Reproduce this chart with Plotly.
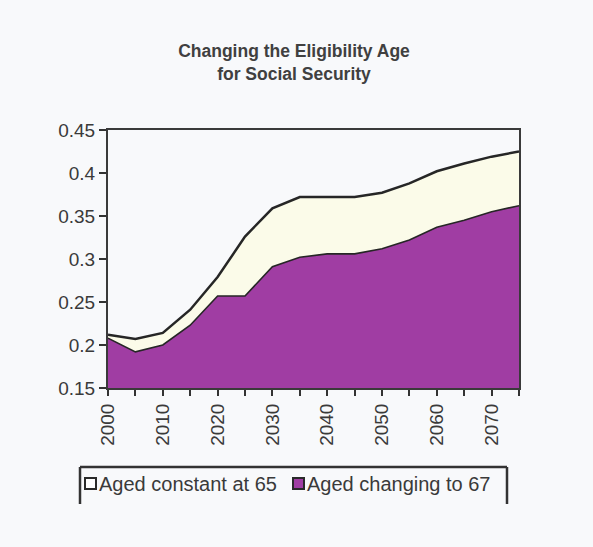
import plotly.graph_objects as go

years = [2000, 2005, 2010, 2015, 2020, 2025, 2030, 2035, 2040, 2045, 2050, 2055, 2060, 2065, 2070, 2075]
aged_constant_65 = [0.212, 0.207, 0.214, 0.241, 0.279, 0.326, 0.359, 0.372, 0.372, 0.372, 0.377, 0.388, 0.402, 0.411, 0.419, 0.425]
aged_changing_67 = [0.208, 0.192, 0.200, 0.223, 0.257, 0.257, 0.291, 0.302, 0.306, 0.306, 0.312, 0.322, 0.337, 0.345, 0.355, 0.362]
x_ticks = list(range(2000, 2080, 5))
x_labels = [str(y) if y % 10 == 0 else "" for y in x_ticks]
y_ticks = [0.15, 0.2, 0.25, 0.3, 0.35, 0.4, 0.45]
y_labels = ["0.15", "0.2", "0.25", "0.3", "0.35", "0.4", "0.45"]
series_names = ["Aged constant at 65", "Aged changing to 67"]
series_fills = ["#fbfbe9", "#a03da3"]

W, H = 593, 547
L, R, T, B = 108, 74, 130, 159
pw, ph = W - L - R, H - T - B


def px(x):
    return (x - L) / pw


def py(y):
    return (H - B - y) / ph


fig = go.Figure()
fig.add_trace(go.Scatter(
    x=years, y=aged_constant_65, name=series_names[0], showlegend=False,
    mode="lines", fill="tozeroy", fillcolor=series_fills[0],
    line=dict(color="#262626", width=2.5),
))
fig.add_trace(go.Scatter(
    x=years, y=aged_changing_67, name=series_names[1], showlegend=False,
    mode="lines", fill="tozeroy", fillcolor=series_fills[1],
    line=dict(color="#262626", width=1.6),
))

font_family = "Liberation Sans, Arial, sans-serif"

# hand-drawn legend box like the original (top, left and right edges)
box_l, box_r, box_t, box_b = 80, 507, 467, 504
legend_y = 484
shapes = [
    dict(type="line", xref="paper", yref="paper", x0=px(box_l), x1=px(box_r), y0=py(box_t), y1=py(box_t),
         line=dict(color="#333", width=2.5)),
    dict(type="line", xref="paper", yref="paper", x0=px(box_l), x1=px(box_l), y0=py(box_t), y1=py(box_b),
         line=dict(color="#333", width=2.5)),
    dict(type="line", xref="paper", yref="paper", x0=px(box_r), x1=px(box_r), y0=py(box_t), y1=py(box_b),
         line=dict(color="#333", width=2.5)),
]
annotations = []
item_x = [85, 293]
for name, fillc, x0 in zip(series_names, series_fills, item_x):
    shapes.append(dict(type="rect", xref="paper", yref="paper",
                       x0=px(x0), x1=px(x0 + 11), y0=py(legend_y - 6), y1=py(legend_y + 5),
                       fillcolor=fillc if fillc != series_fills[0] else "#ffffff",
                       line=dict(color="#2a2a2a", width=2)))
    annotations.append(dict(text=name, xref="paper", yref="paper", x=px(x0 + 12), y=py(legend_y),
                            xanchor="left", yanchor="middle", showarrow=False,
                            font=dict(size=20, color="#3a3a3a", family=font_family)))

fig.update_layout(
    width=W, height=H,
    margin=dict(l=L, r=R, t=T, b=B),
    paper_bgcolor="#f8f9fb", plot_bgcolor="#f8f9fb",
    font=dict(family=font_family, color="#333333", size=19),
    title=dict(
        text="<b>Changing the Eligibility Age<br>for Social Security</b>",
        x=294 / W, xanchor="center", y=1 - 57 / H, yanchor="middle",
        font=dict(size=17.5, color="#404040", family=font_family),
    ),
    showlegend=False,
    xaxis=dict(
        range=[2000, 2075], tickmode="array", tickvals=x_ticks, ticktext=x_labels,
        tickangle=-90, ticks="outside", ticklen=6, tickwidth=2, tickcolor="#333",
        showline=True, linecolor="#3a3a3a", linewidth=2, mirror=True,
        showgrid=False, zeroline=False, tickfont=dict(size=19, color="#3a3a3a"),
    ),
    yaxis=dict(
        range=[0.15, 0.45], tickmode="array", tickvals=y_ticks, ticktext=y_labels,
        ticks="outside", ticklen=7, tickwidth=2, tickcolor="#333",
        showline=True, linecolor="#3a3a3a", linewidth=2, mirror=True,
        showgrid=False, zeroline=False, tickfont=dict(size=19, color="#3a3a3a"),
    ),
    shapes=shapes,
    annotations=annotations,
)

fig.write_html("out.html")
